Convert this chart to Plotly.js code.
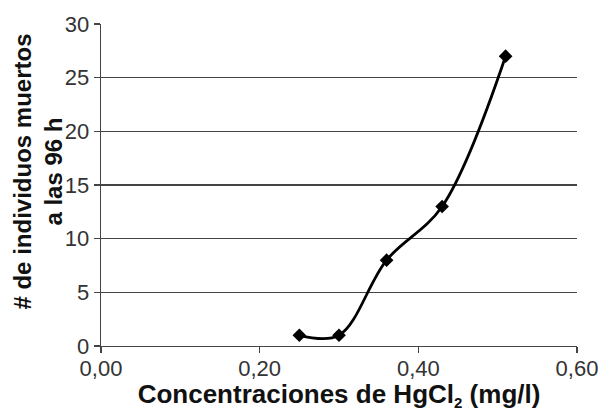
<!DOCTYPE html>
<html>
<head>
<meta charset="utf-8">
<script src="https://cdn.plot.ly/plotly-3.0.1.min.js"></script>
<style>html,body{margin:0;padding:0;background:#fff;}#chart{width:612px;height:411px;}</style>
</head>
<body>
<div id="chart"></div>
<script>
var concentraciones = [0.25, 0.30, 0.36, 0.43, 0.51];
var muertos = [1, 1, 8, 13, 27];
var xTicks = [0, 0.2, 0.4, 0.6];
var yTicks = [0, 5, 10, 15, 20, 25, 30];
var xTitle = 'Concentraciones de HgCl<sub><span style="font-size:15px">2</span></sub> (mg/l)';
var yTitle = '# de individuos muertos<br>a las 96 h';

var trace = {
  x: concentraciones,
  y: muertos,
  type: 'scatter',
  mode: 'lines+markers',
  line: {color: '#000', width: 2.8, shape: 'spline', smoothing: 1},
  marker: {symbol: 'diamond', size: 10.5, color: '#000'},
  hoverinfo: 'none'
};

var font = 'Liberation Sans, Arial, sans-serif';
var layout = {
  width: 612, height: 411,
  margin: {l: 100.6, r: 35.3, t: 24, b: 65},
  paper_bgcolor: '#fff', plot_bgcolor: '#fff',
  separators: ', ',
  showlegend: false,
  font: {family: font, color: '#333', size: 22},
  xaxis: {
    range: [0, 0.6], tickvals: xTicks, tickformat: '.2f',
    showgrid: false, zeroline: false,
    showline: true, linecolor: '#444', linewidth: 1.3,
    ticks: 'outside', ticklen: 6, tickcolor: '#444', tickwidth: 1.3,
    ticklabelstandoff: -4,
    tickfont: {size: 22, color: '#333', family: font},
    title: {text: xTitle, standoff: 5, font: {size: 26, color: '#111', family: font, weight: 'bold'}}
  },
  yaxis: {
    range: [0, 30], tickvals: yTicks,
    showgrid: true, gridcolor: '#444', gridwidth: 1.3, zeroline: false,
    showline: true, linecolor: '#444', linewidth: 1.3,
    ticks: 'outside', ticklen: 6, tickcolor: '#444', tickwidth: 1.3,
    tickfont: {size: 22, color: '#333', family: font}
  },
  annotations: [{
    text: yTitle, textangle: -90,
    xref: 'paper', yref: 'paper', x: 0, y: 0.543,
    xanchor: 'center', yanchor: 'middle', xshift: -62.6,
    showarrow: false,
    font: {size: 24, color: '#111', family: font, weight: 'bold'}
  }]
};

Plotly.newPlot('chart', [trace], layout, {staticPlot: true, displayModeBar: false});
</script>
</body>
</html>
